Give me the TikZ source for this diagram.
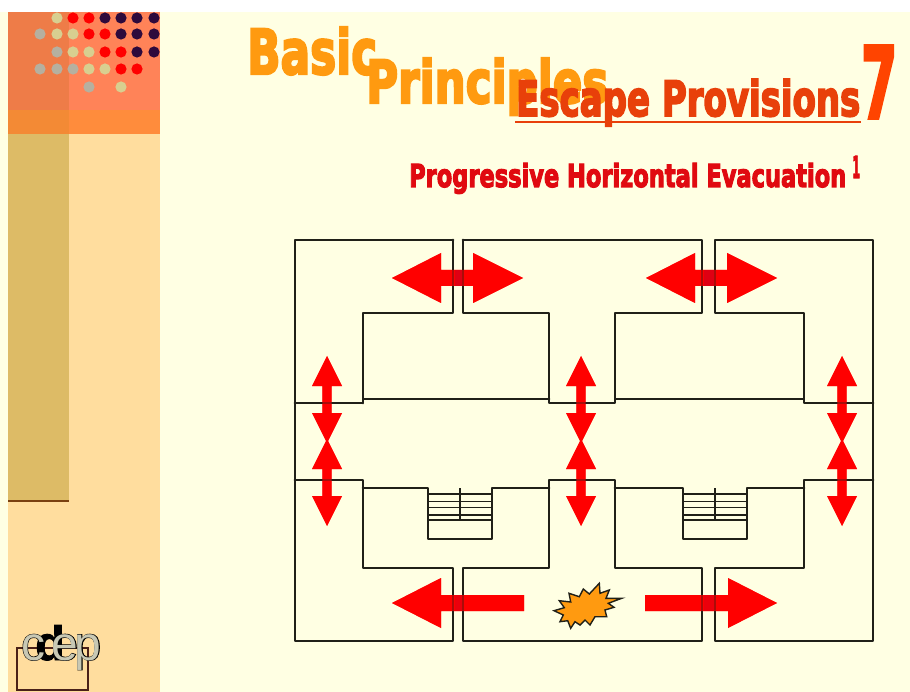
\documentclass[tikz,border=0pt]{standalone}
\usepackage{fontspec}
\setmainfont{Liberation Sans}
\newfontfamily\impfont[FakeBold=4]{DejaVu Sans}
\newfontfamily\logoblack[FakeBold=2]{Liberation Sans}
\definecolor{cream}{HTML}{FFFFE3}
\definecolor{peach}{HTML}{FFDD9E}
\definecolor{khaki}{HTML}{DDBB66}
\definecolor{orangeL}{HTML}{EE7C48}
\definecolor{orangeR}{HTML}{FF8358}
\definecolor{bandL}{HTML}{F38A35}
\definecolor{bandR}{HTML}{FF8C3C}
\definecolor{dotgrey}{HTML}{B5B0A0}
\definecolor{dotbeige}{HTML}{D8CF90}
\definecolor{dotred}{HTML}{FF0000}
\definecolor{dotdark}{HTML}{2E0A3C}
\definecolor{titleorange}{HTML}{FF9A10}
\definecolor{titlered}{HTML}{E8400A}
\definecolor{seven}{HTML}{FF4400}
\definecolor{subred}{HTML}{E00A10}
\definecolor{wallcolor}{HTML}{202018}
\definecolor{darkshaft}{HTML}{D80018}
\definecolor{logobrown}{HTML}{4A2018}
\definecolor{sidebrown}{HTML}{7A4010}
\definecolor{logogrey}{HTML}{C8C8B4}
\tikzset{
  wall/.style={draw=wallcolor,line width=2.7pt,line join=round,line cap=round},
  tread/.style={draw=wallcolor,line width=1.6pt},
  titletext/.style={inner sep=0pt,anchor=base west},
  logotext/.style={inner sep=0pt,anchor=base,font=\fontsize{48pt}{48pt}\selectfont},
  dot/.style={radius=5.6pt}
}
\newcommand{\hdouble}[3]{% left base x, center y, style
  \fill[#3] (#1-49,#2) -- (#1,#2-25) -- (#1,#2-8) -- (#1+32,#2-8) -- (#1+32,#2-25) -- (#1+82,#2) -- (#1+32,#2+25) -- (#1+32,#2+8) -- (#1,#2+8) -- (#1,#2+25) -- cycle;}
\newcommand{\vdouble}[3]{% center x, top tip y, style
  \fill[#3] (#1,#2) -- (#1+15,#2+30) -- (#1+4.7,#2+30) -- (#1+4.7,#2+57) -- (#1+15,#2+57) -- (#1,#2+87) -- (#1-15,#2+57) -- (#1-4.7,#2+57) -- (#1-4.7,#2+30) -- (#1-15,#2+30) -- cycle;}
\newcommand{\allarrows}[1]{%
  \hdouble{441}{278}{#1}
  \hdouble{695}{278}{#1}
  \foreach \cx in {327,581,842}{
    \vdouble{\cx}{356}{#1}
    \vdouble{\cx}{439}{#1}
  }
  \fill[#1] (392,603) -- (441,578) -- (441,595) -- (524,595) -- (524,611) -- (441,611) -- (441,628) -- cycle;
  \fill[#1] (777,603) -- (728,578) -- (728,595) -- (645,595) -- (645,611) -- (728,611) -- (728,628) -- cycle;
}
\begin{document}
\begin{tikzpicture}[x=1pt,y=-1pt]
\useasboundingbox (0,0) rectangle (910,692);
% page
\fill[white] (0,0) rectangle (910,692);
\fill[cream] (0,12) rectangle (910,692);
% sidebar
\fill[peach] (8,12) rectangle (160,692);
\fill[khaki] (8,134) rectangle (69,500);
\draw[sidebrown,line width=2.8pt] (8,501) -- (69,501);
\fill[orangeL] (8,12) rectangle (69,110);
\fill[orangeR] (69,12) rectangle (160,110);
\fill[bandL] (8,110) rectangle (69,134);
\fill[bandR] (69,110) rectangle (160,134);
% dots
\foreach \px/\py in {40/34,57/52,40/69,57/69,73/69,89/87}{\fill[dotgrey] (\px,\py) circle[dot];}
\foreach \px/\py in {57/18,57/34,73/34,73/52,89/52,89/69,105/69,121/87}{\fill[dotbeige] (\px,\py) circle[dot];}
\foreach \px/\py in {73/18,89/18,89/34,105/34,105/52,121/52,121/69,137/69}{\fill[dotred] (\px,\py) circle[dot];}
\foreach \px/\py in {105/18,121/18,137/18,154/18,121/34,137/34,154/34,137/52,154/52}{\fill[dotdark] (\px,\py) circle[dot];}
% logo
\draw[logobrown,line width=1.6pt] (17,648) rectangle (88,690);
\node[logotext,text=black] (logoDark) at (50,660) {\logoblack\bfseries d};
\node[logotext,text=black] (logoCb) at (33,660) {\logoblack c};
\node[logotext,text=black] (logoEb) at (65,660) {\logoblack e};
\node[logotext,text=black] (logoPb) at (88,660) {\logoblack p};
\node[logotext,text=logogrey] (logoC) at (33,660) {c};
\node[logotext,text=logogrey] (logoE) at (65,660) {e};
\node[logotext,text=logogrey] (logoP) at (88,660) {p};
% titles
\node[titletext,text=titleorange] (basic) at (247,74) {\resizebox{130pt}{47pt}{\impfont\bfseries Basic}};
\node[titletext,text=titleorange] (principles) at (366,103) {\resizebox{242pt}{45pt}{\impfont\bfseries Principles}};
\node[titletext,text=titlered] (escape) at (516,116) {\resizebox{344pt}{37pt}{\impfont\bfseries Escape Provisions}};
\draw[titlered,line width=2pt] (515,122) -- (861,122);
\node[titletext,text=seven] (seven) at (861,118) {\resizebox{36pt}{72pt}{\impfont\bfseries 7}};
\node[titletext,text=subred] (sub) at (409,187) {\resizebox{437pt}{24pt}{\impfont\bfseries Progressive Horizontal Evacuation}};
\node[titletext,text=subred] (subone) at (852,178) {\resizebox{8pt}{22pt}{\impfont\bfseries 1}};
% opaque arrows under walls
\allarrows{red}
% walls
\draw[wall] (453,240) -- (295,240) -- (295,641) -- (453,641) -- (453,568) -- (363,568) -- (363,480) -- (295,480);
\draw[wall] (295,403) -- (363,403) -- (363,313) -- (453,313) -- (453,240);
\draw[wall] (463,240) -- (702,240) -- (702,313) -- (615,313) -- (615,399) -- (804,399) -- (804,313) -- (715,313) -- (715,240) -- (873,240) -- (873,641) -- (715,641) -- (715,568) -- (804,568) -- (804,480) -- (873,480);
\draw[wall] (463,240) -- (463,313) -- (549,313) -- (549,403) -- (615,403) -- (615,399);
\draw[wall] (363,403) -- (363,399) -- (549,399);
\draw[wall] (804,399) -- (804,403) -- (873,403);
\draw[wall] (463,641) -- (702,641) -- (702,568) -- (615,568) -- (615,480) -- (549,480) -- (549,568) -- (463,568) -- cycle;
\draw[wall] (363,488) -- (428,488) -- (428,539) -- (492,539) -- (492,488) -- (549,488);
\draw[wall] (615,488) -- (683,488) -- (683,539) -- (747,539) -- (747,488) -- (804,488);
% stairs
\foreach \sx in {428,683}{
  \foreach \sy in {494,501.5,507.5,515,520}{\draw[tread] (\sx,\sy) -- (\sx+64,\sy);}
  \draw[tread] (\sx+32,488) -- (\sx+32,520);
}
% translucent arrows over walls
\allarrows{red,opacity=.62}
\fill[darkshaft,opacity=.8] (454.5,270) rectangle (461.5,286);
\fill[darkshaft,opacity=.8] (703.5,270) rectangle (713.5,286);
\fill[darkshaft,opacity=.5] (454.5,595) rectangle (461.5,611);
\fill[darkshaft,opacity=.5] (703.5,595) rectangle (713.5,611);
% explosion
\draw[fill=titleorange,draw=wallcolor,line width=1.4pt,line join=miter]
 (554,610.7) -- (564.3,607.7) -- (559.3,600.7) -- (570.7,602) -- (569,593.3) -- (579.3,596.7) -- (583.3,589) -- (589.3,594) -- (599.3,583.3) -- (600,593.3) -- (609.3,590) -- (606,598.3) -- (621.7,598.3) -- (608.3,603.3) -- (614,607.3) -- (605,610) -- (606.7,616.7) -- (595,616.7) -- (590,625) -- (585,620) -- (580,625) -- (575,621.7) -- (570.7,628.3) -- (567.7,620.7) -- (560,621.7) -- (563.3,615) -- cycle;
\end{tikzpicture}
\end{document}
